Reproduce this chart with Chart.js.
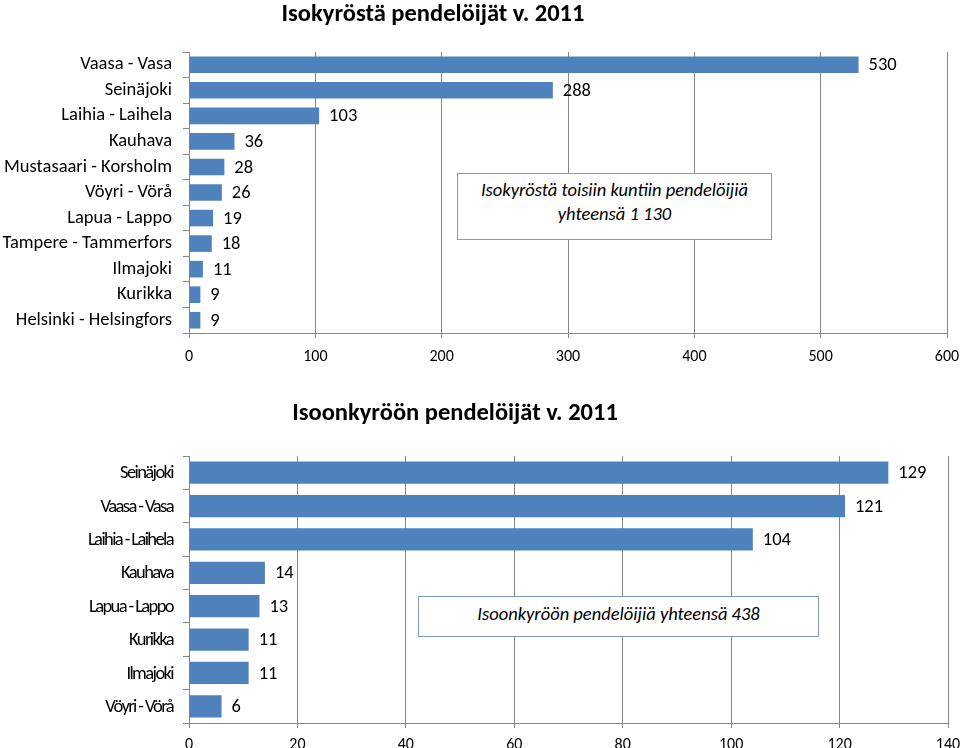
<!DOCTYPE html>
<html>
<head>
<meta charset="utf-8">
<script src="https://cdn.jsdelivr.net/npm/chart.js@4/dist/chart.umd.min.js"></script>
<style>
  body { margin: 0; background: #fff; }
  #wrap { position: relative; width: 960px; height: 748px; overflow: hidden; }
  canvas { position: absolute; left: 0; }
  #c1 { top: 0; }
  #c2 { top: 390px; }
  .title {
    position: absolute; width: 600px; text-align: center; height: 29px; line-height: 29px;
    font: bold 24.5px Carlito, Lato, sans-serif; color: #000; white-space: nowrap;
  }
  .note {
    position: absolute; box-sizing: border-box; border: 1.5px solid #7d99c2; background: #fff;
    font: italic 18.5px Carlito, Lato, sans-serif; color: #000; text-align: center; line-height: 24px;
  }
</style>
</head>
<body>
<div id="wrap">
  <canvas id="c1" width="960" height="373"></canvas>
  <canvas id="c2" width="960" height="358"></canvas>
  <div class="title" style="left:133px; top:-2px;">Isokyröstä pendelöijät v. 2011</div>
  <div class="title" style="left:155px; top:397px;">Isoonkyröön pendelöijät v. 2011</div>
  <div class="note" style="left:457px; top:173px; width:315px; height:67px; padding-top:4px;">Isokyröstä toisiin kuntiin pendelöijiä<br>yhteensä 1 130</div>
  <div class="note" style="left:418px; top:596px; width:401px; height:41px; padding-top:5px;">Isoonkyröön pendelöijiä yhteensä 438</div>
</div>
<script>
// Isokyröstä lähtevät
const fromLabels = ["Vaasa - Vasa", "Seinäjoki", "Laihia - Laihela", "Kauhava", "Mustasaari - Korsholm",
  "Vöyri - Vörå", "Lapua - Lappo", "Tampere - Tammerfors", "Ilmajoki", "Kurikka", "Helsinki - Helsingfors"];
const fromValues = [530, 288, 103, 36, 28, 26, 19, 18, 11, 9, 9];
const fromTicks = [0, 100, 200, 300, 400, 500, 600];

// Isoonkyröön tulevat
const toLabels = ["Seinäjoki", "Vaasa - Vasa", "Laihia - Laihela", "Kauhava", "Lapua - Lappo",
  "Kurikka", "Ilmajoki", "Vöyri - Vörå"];
const toValues = [129, 121, 104, 14, 13, 11, 11, 6];
const toTicks = [0, 20, 40, 60, 80, 100, 120, 140];

Chart.defaults.font.family = "Carlito, Lato, sans-serif";
Chart.defaults.color = "#000";

const gridGray = "#868686";
const FONT = "Carlito, Lato, sans-serif";

// arvot palkkien perään
const valueLabels = {
  id: "valueLabels",
  afterDatasetsDraw(chart) {
    const ctx = chart.ctx;
    const meta = chart.getDatasetMeta(0);
    ctx.save();
    ctx.font = "18.5px " + FONT;
    ctx.fillStyle = "#000";
    ctx.textBaseline = "middle";
    meta.data.forEach((bar, i) => {
      ctx.fillText(chart.data.datasets[0].data[i], bar.x + 10, bar.y + 1);
    });
    ctx.restore();
  }
};

// alemman kaavion tiivistetyt kuntanimet
const tightLabels = {
  id: "tightLabels",
  afterDraw(chart, args, o) {
    if (!o.on) return;
    const ctx = chart.ctx;
    const y = chart.scales.y;
    ctx.save();
    ctx.font = "18.5px " + FONT;
    ctx.letterSpacing = "-1.6px";
    ctx.fillStyle = "#000";
    ctx.textAlign = "right";
    ctx.textBaseline = "middle";
    chart.data.labels.forEach((lab, i) => {
      ctx.fillText(lab, 173, y.getPixelForTick(i) + 1);
    });
    ctx.restore();
  }
};

function makeChart(id, labels, values, ticks, opts) {
  return new Chart(document.getElementById(id), {
    type: "bar",
    data: {
      labels: labels,
      datasets: [{
        data: values,
        backgroundColor: "#4f81bd",
        barPercentage: opts.bar,
        categoryPercentage: 1
      }]
    },
    options: {
      indexAxis: "y",
      responsive: false,
      animation: false,
      layout: { padding: { left: 0, right: opts.right, top: opts.top, bottom: 0 } },
      plugins: {
        legend: { display: false },
        tooltip: { enabled: false },
        title: { display: false },
        tightLabels: { on: opts.tight }
      },
      scales: {
        x: {
          min: ticks[0],
          max: ticks[ticks.length - 1],
          afterBuildTicks: s => { s.ticks = ticks.map(v => ({ value: v })); },
          afterFit: s => { s.height = opts.xh; s.paddingLeft = 0; s.paddingRight = 0; },
          grid: { color: gridGray, tickLength: 5 },
          border: { color: gridGray },
          ticks: { font: { size: 16 }, padding: opts.xpad, maxRotation: 0 }
        },
        y: {
          afterFit: s => { s.width = 189; },
          grid: { drawOnChartArea: false, color: gridGray, tickLength: 6, offset: true },
          border: { color: gridGray },
          ticks: {
            font: { size: 18.5 }, padding: 11, autoSkip: false,
            color: opts.tight ? "rgba(0,0,0,0)" : "#000"
          }
        }
      }
    },
    plugins: [valueLabels, tightLabels]
  });
}

makeChart("c1", fromLabels, fromValues, fromTicks, {
  right: 13, top: 52, xh: 40, xpad: 9, bar: 0.65, tight: false
});

makeChart("c2", toLabels, toValues, toTicks, {
  right: 12, top: 66, xh: 25, xpad: 7, bar: 0.67, tight: true
});
</script>
</body>
</html>
